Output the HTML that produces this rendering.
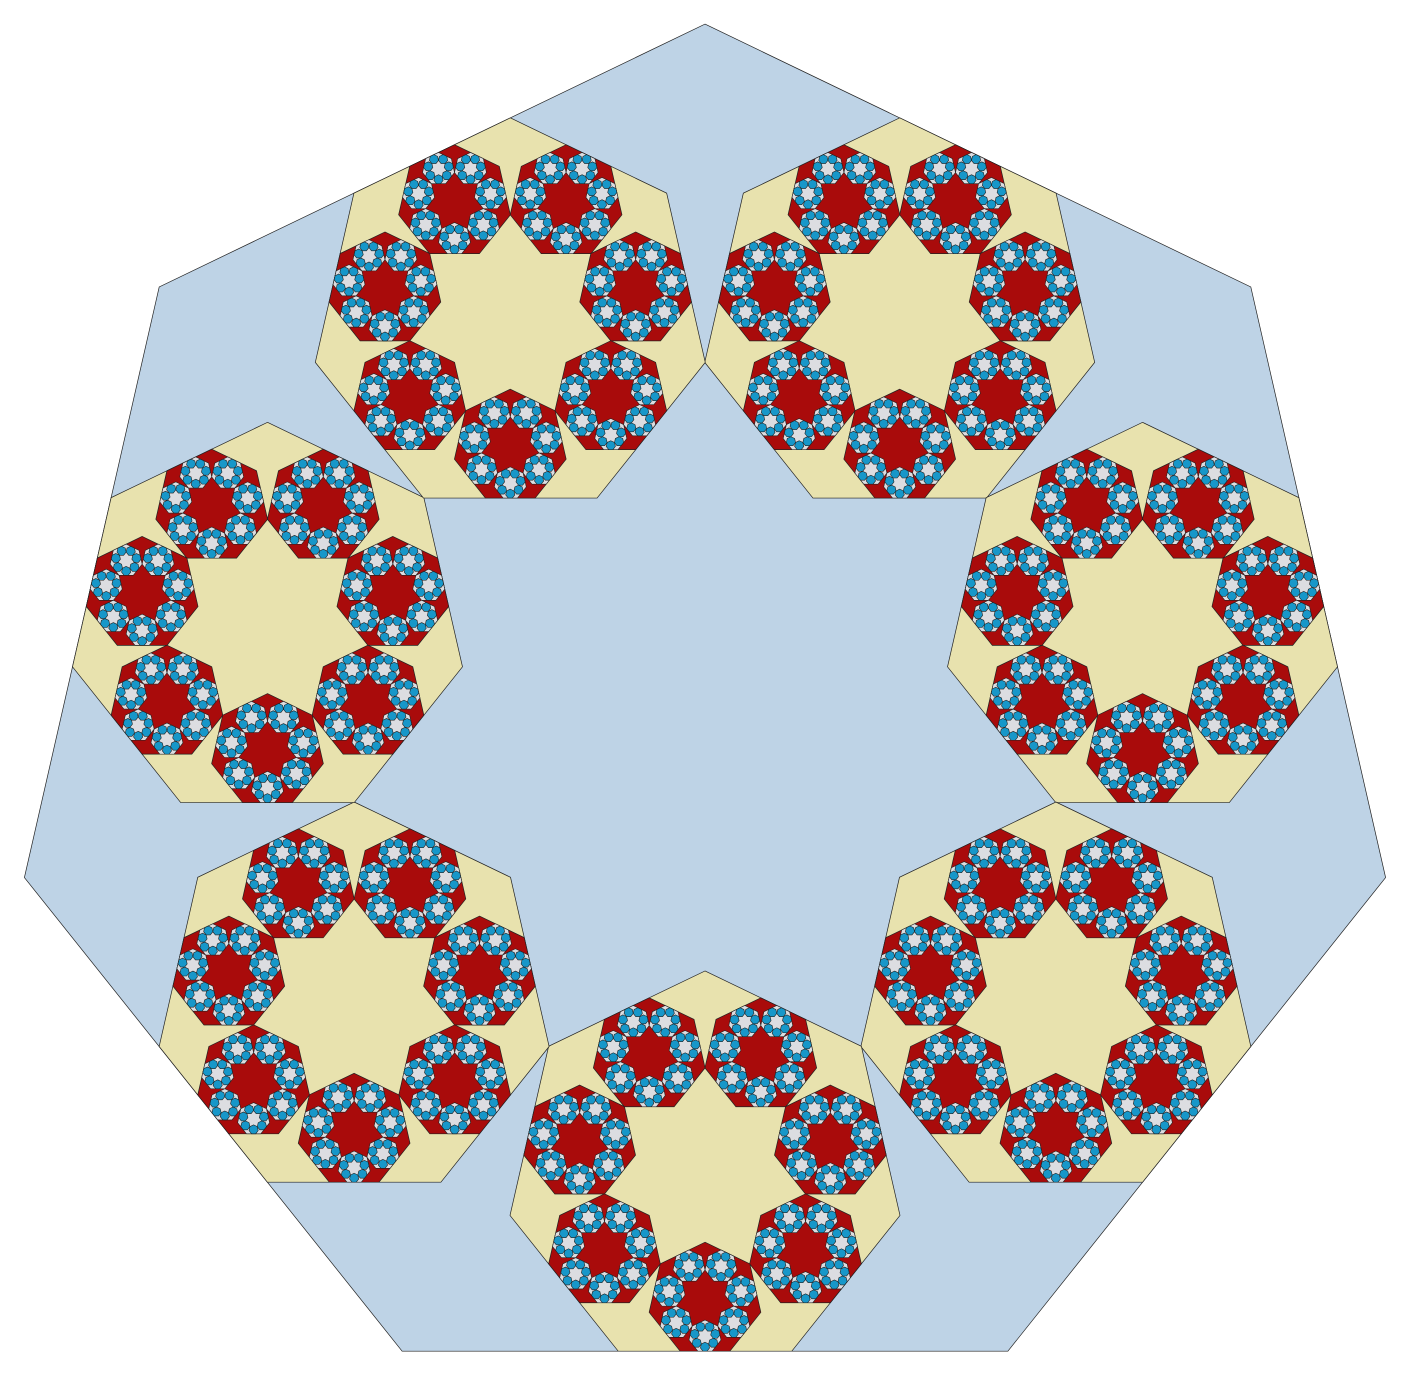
<!DOCTYPE html>
<html><head><meta charset="utf-8"><style>html,body{margin:0;padding:0;background:#fff;}svg{display:block}</style></head>
<body>
<svg id="chart" width="1411" height="1376" viewBox="0 0 1411 1376" xmlns="http://www.w3.org/2000/svg"></svg>
<script>
const levelColors = ["#bed3e6", "#e8e2ae", "#a90b0b", "#dcdde1", "#1797c9"];
const levelNames = ["outer-heptagon", "level1-heptagon", "level2-heptagon", "level3-heptagon", "level4-heptagon"];
const scaleFactor = 0.2865;
const svg = document.getElementById('chart');
const NS = "http://www.w3.org/2000/svg";
const C = Math.cos(Math.PI / 7);
function hept(cx, cy, r, lvl) {
  const pts = [];
  for (let k = 0; k < 7; k++) {
    const a = k * 2 * Math.PI / 7;
    pts.push((cx + r * Math.sin(a)).toFixed(2) + "," + (cy - r * Math.cos(a)).toFixed(2));
  }
  const p = document.createElementNS(NS, "polygon");
  p.setAttribute("points", pts.join(" "));
  p.setAttribute("fill", levelColors[lvl]);
  p.setAttribute("stroke", "#222");
  p.setAttribute("stroke-width", lvl >= 3 ? "0.6" : "0.7");
  
  
  svg.appendChild(p);
}
function draw(cx, cy, r, lvl) {
  hept(cx, cy, r, lvl);
  if (lvl >= levelColors.length - 1) return;
  const rr = r * scaleFactor;
  const d = r * C * (1 - scaleFactor);
  for (let k = 0; k < 7; k++) {
    const a = (2 * k + 1) * Math.PI / 7;
    draw(cx + d * Math.sin(a), cy - d * Math.cos(a), rr, lvl + 1);
  }
}
draw(705, 722.2, 698.1, 0);
</script>
</body></html>
